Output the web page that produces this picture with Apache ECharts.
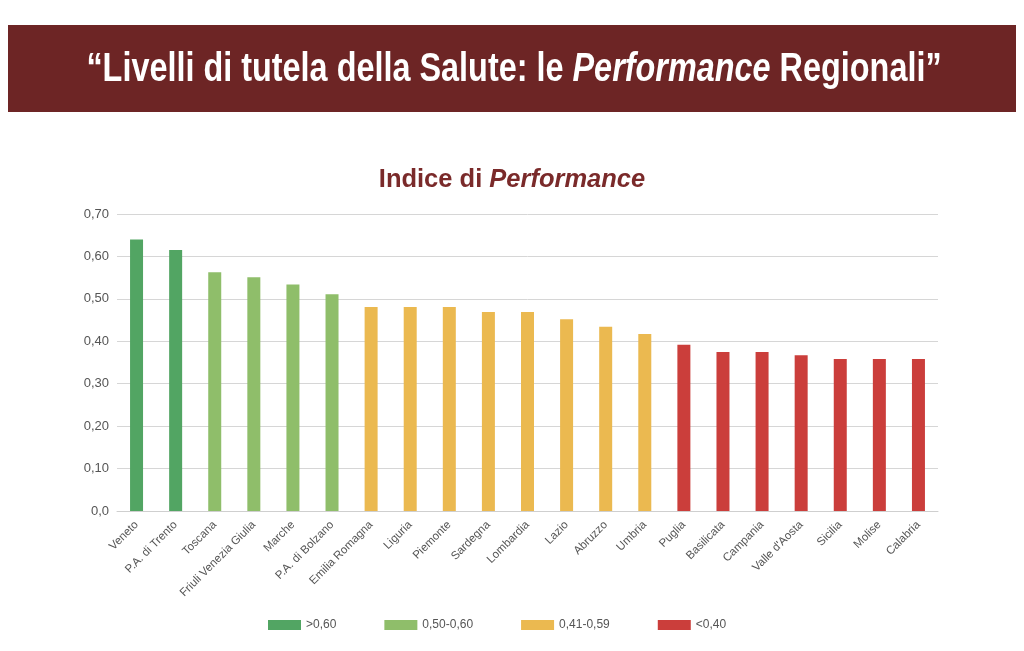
<!DOCTYPE html>
<html>
<head>
<meta charset="utf-8">
<style>
  html, body { margin: 0; padding: 0; background: #ffffff; }
  #chart { width: 1024px; height: 651px; }
</style>
<script src="https://cdn.jsdelivr.net/npm/echarts@6/dist/echarts.min.js"></script>
</head>
<body>
<div id="chart"></div>
<script>
// Regions, sorted by performance index
var regions = ['Veneto', 'P.A. di Trento', 'Toscana', 'Friuli Venezia Giulia', 'Marche', 'P.A. di Bolzano',
  'Emilia Romagna', 'Liguria', 'Piemonte', 'Sardegna', 'Lombardia', 'Lazio', 'Abruzzo', 'Umbria',
  'Puglia', 'Basilicata', 'Campania', "Valle d'Aosta", 'Sicilia', 'Molise', 'Calabria'];
var values = [0.64, 0.615, 0.563, 0.551, 0.534, 0.511,
  0.481, 0.481, 0.481, 0.469, 0.469, 0.452, 0.434, 0.417,
  0.392, 0.375, 0.375, 0.367, 0.358, 0.358, 0.358];
// class of each region (index into bands)
var bandOf = [0, 0, 1, 1, 1, 1, 2, 2, 2, 2, 2, 2, 2, 2, 3, 3, 3, 3, 3, 3, 3];
var bands = ['>0,60', '0,50-0,60', '0,41-0,59', '<0,40'];
var bandColors = ['#52a563', '#8fbe6a', '#ebb950', '#cb3e3b'];

var chart = echarts.init(document.getElementById('chart'));

var series = bands.map(function (name, b) {
  return {
    name: name,
    type: 'bar',
    stack: 'all',
    barWidth: 13,
    itemStyle: { color: bandColors[b] },
    data: values.map(function (v, i) { return bandOf[i] === b ? v : '-'; })
  };
});

var headFont = '"Liberation Sans", Arial, sans-serif';

chart.setOption({
  backgroundColor: '#ffffff',
  graphic: [{
    type: 'rect',
    shape: { x: 8, y: 25, width: 1008, height: 87 },
    style: { fill: '#6d2525' },
    z: -1
  }, {
    // condensed-looking header text (squeezed horizontally)
    type: 'text',
    x: 514,
    y: 70,
    scaleX: 0.81,
    style: {
      text: '{n|“Livelli di tutela della Salute: le }{i|Performance}{n| Regionali”}',
      align: 'center',
      verticalAlign: 'middle',
      rich: {
        n: { fill: '#ffffff', fontSize: 40, fontWeight: 'bold', fontFamily: headFont },
        i: { fill: '#ffffff', fontSize: 40, fontWeight: 'bold', fontStyle: 'italic', fontFamily: headFont }
      }
    }
  }],
  title: {
    text: '{n|Indice di }{i|Performance}',
    left: 'center',
    top: 162,
    textStyle: {
      rich: {
        n: { color: '#7a2a2a', fontSize: 25.5, fontWeight: 'bold', fontFamily: headFont },
        i: { color: '#7a2a2a', fontSize: 25.5, fontWeight: 'bold', fontStyle: 'italic', fontFamily: headFont }
      }
    }
  },
  legend: {
    left: 263,
    top: 614,
    itemWidth: 33,
    itemHeight: 10,
    itemGap: 48,
    icon: 'rect',
    textStyle: { color: '#555', fontSize: 12, fontFamily: headFont },
    data: bands
  },
  grid: { left: 117, right: 86, top: 214, bottom: 140 },
  xAxis: {
    type: 'category',
    data: regions,
    axisTick: { show: false },
    axisLine: { lineStyle: { color: '#cfcfcf' } },
    axisLabel: {
      rotate: 45,
      interval: 0,
      color: '#555',
      fontSize: 11.5,
      margin: 12,
      fontFamily: headFont
    }
  },
  yAxis: {
    type: 'value',
    min: 0,
    max: 0.7,
    interval: 0.1,
    axisLine: { show: false },
    axisTick: { show: false },
    splitLine: { lineStyle: { color: '#d6d6d6' } },
    axisLabel: {
      color: '#555',
      fontSize: 13,
      margin: 8,
      fontFamily: headFont,
      formatter: function (v) { return v === 0 ? '0,0' : v.toFixed(2).replace('.', ','); }
    }
  },
  series: series
});
</script>
</body>
</html>
